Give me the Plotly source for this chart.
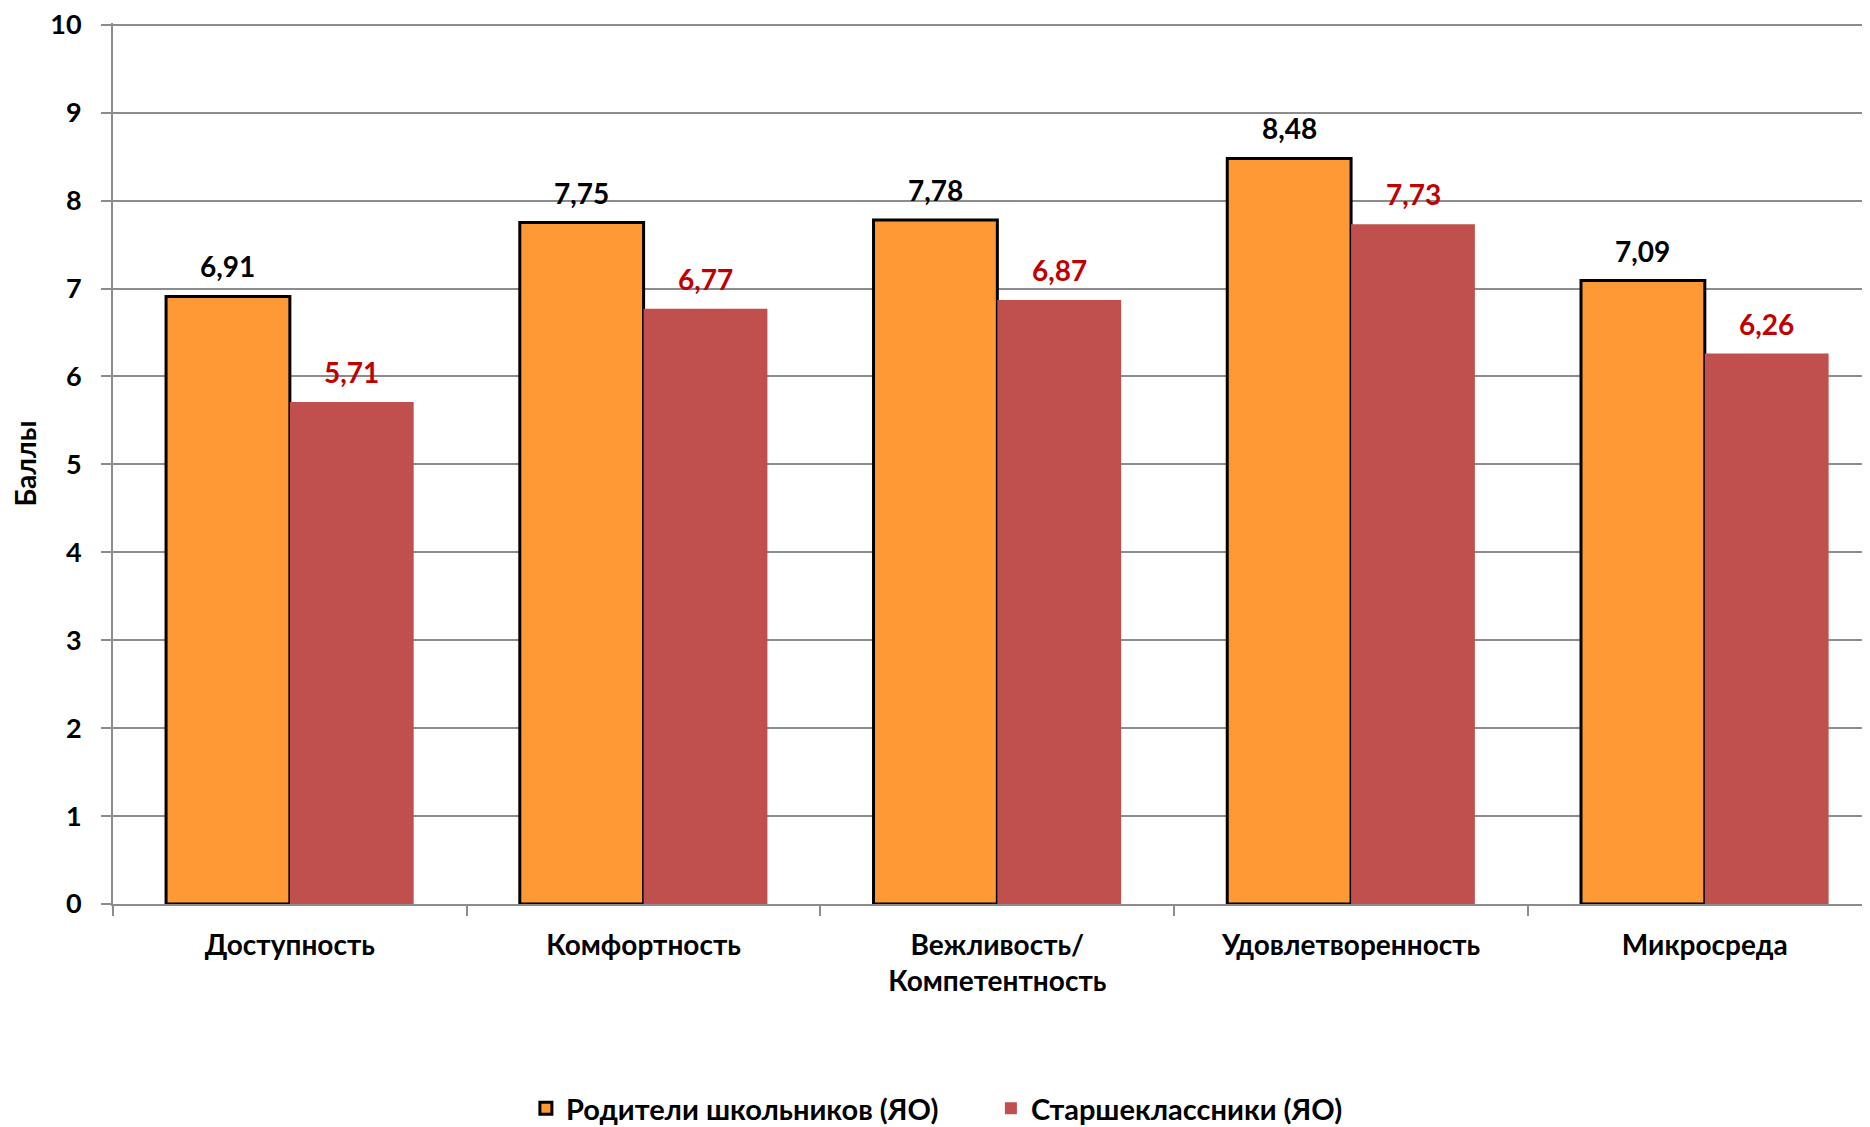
import plotly.graph_objects as go

categories = ["Доступность", "Комфортность", "Вежливость/<br>Компетентность", "Удовлетворенность", "Микросреда"]
parents = [6.91, 7.75, 7.78, 8.48, 7.09]
students = [5.71, 6.77, 6.87, 7.73, 6.26]
series_names = ["Родители школьников (ЯО)", "Старшеклассники (ЯО)"]
y_ticks = list(range(0, 11))

FONT = "Lato, 'Open Sans', sans-serif"
GRID = "#8c8c8c"
ORANGE = "#FF9933"
RED = "#C0504D"
LABEL_RED = "#C00000"

def fmt(v):
    return f"{v:.2f}".replace(".", ",")

fig = go.Figure()
fig.add_trace(go.Bar(
    x=categories, y=parents, name=series_names[0],
    marker=dict(color=ORANGE, line=dict(color="black", width=3)),
))
fig.add_trace(go.Bar(
    x=categories, y=students, name=series_names[1],
    marker=dict(color=RED, line=dict(width=0)),
))

annotations = []
for c, p, s in zip(categories, parents, students):
    annotations.append(dict(x=c, y=p, text=fmt(p), showarrow=False, xref="x", yref="y",
                            yanchor="bottom", xshift=-62, yshift=11,
                            font=dict(family=FONT, size=28, color="black", weight="bold")))
    annotations.append(dict(x=c, y=s, text=fmt(s), showarrow=False, xref="x", yref="y",
                            yanchor="bottom", xshift=62, yshift=11,
                            font=dict(family=FONT, size=28, color=LABEL_RED, weight="bold")))

# page body adds an 8px offset, so the figure is 8px smaller in each direction
fig.update_layout(
    width=1862, height=1119,
    margin=dict(l=105, r=0, t=15, b=223, autoexpand=False),
    paper_bgcolor="white", plot_bgcolor="white",
    barmode="group", bargap=0.3, bargroupgap=0,
    font=dict(family=FONT, color="black", weight="bold"),
    annotations=annotations,
    showlegend=True,
    legend=dict(orientation="h", x=0.235, y=-0.232, xanchor="left", yanchor="middle",
                font=dict(family=FONT, size=29, color="black", weight="bold"),
                entrywidth=420, entrywidthmode="pixels", traceorder="normal"),
)

fig.update_xaxes(
    type="category", range=[-0.5, 4.467],
    tickson="boundaries", ticks="outside", ticklen=10, tickwidth=2, tickcolor=GRID,
    showline=True, linecolor=GRID, linewidth=2, showgrid=False,
    tickfont=dict(family=FONT, size=28, color="black", weight="bold"),
    ticklabelstandoff=15,
)
fig.update_yaxes(
    range=[0, 10.02], tickvals=y_ticks, ticktext=[str(t) for t in y_ticks],
    showgrid=True, gridcolor=GRID, gridwidth=2,
    showline=True, linecolor=GRID, linewidth=2, zeroline=False,
    ticks="outside", ticklen=10, tickwidth=2, tickcolor=GRID,
    tickfont=dict(family=FONT, size=27, color="black", weight="bold"),
    ticklabelstandoff=14, ticklabeloverflow="allow",
    title=dict(text="Баллы", font=dict(family=FONT, size=28, color="black", weight="bold"), standoff=6),
)

fig.write_html("out.html")
